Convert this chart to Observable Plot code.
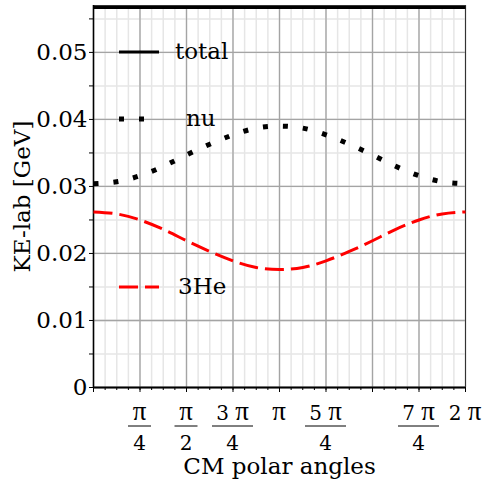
<!DOCTYPE html>
<html><head><meta charset="utf-8">
<script src="https://cdn.jsdelivr.net/npm/d3@7"></script>
<script src="https://cdn.jsdelivr.net/npm/@observablehq/plot@0.6"></script>
<style>body{margin:0;background:#fff} svg{display:block}</style>
</head><body><div id="chart"></div>
<script>
// sample angles in units of pi/8
const angleEighths = [0,1,2,3,4,5,6,7,8,9,10,11,12,13,14,15,16];
const nuKE    = [0.0304,0.0307,0.0316,0.0330,0.0347,0.0363,0.0377,0.0387,0.0390,0.0387,0.0377,0.0363,0.0347,0.0330,0.0316,0.0307,0.0304];
const he3KE   = [0.0262,0.0259,0.0250,0.0236,0.0219,0.0203,0.0189,0.0179,0.0176,0.0179,0.0189,0.0203,0.0219,0.0236,0.0250,0.0259,0.0262];
const totalKE = [0.0567,0.0567,0.0567,0.0567,0.0567,0.0567,0.0567,0.0567,0.0567,0.0567,0.0567,0.0567,0.0567,0.0567,0.0567,0.0567,0.0567];

// x ticks in units of pi/4 (major), pi/16 (minor)
const xMajorQuarters = [0,1,2,3,4,5,6,7,8];
const xMinorSixteenths = [0,1,2,3,4,5,6,7,8,9,10,11,12,13,14,15,16,17,18,19,20,21,22,23,24,25,26,27,28,29,30,31,32];
const xLabelQuarters = [1,2,3,4,5,7,8];
const xLabelCoef = ["","","3","","5","7","2"];   // numerator coefficient of π
const xLabelDen = ["4","2","4","","4","4",""];

const yMajor = [0,0.01,0.02,0.03,0.04,0.05];
const yMajorText = ["0","0.01","0.02","0.03","0.04","0.05"];
const yMinor = [0,0.005,0.01,0.015,0.02,0.025,0.03,0.035,0.04,0.045,0.05,0.055];

const seriesNames = ["total","nu","3He"];

const PI = Math.PI;
const rows = [];
angleEighths.forEach((k,i) => {
  rows.push({x: k*PI/8, y: totalKE[i], s: "total"});
  rows.push({x: k*PI/8, y: nuKE[i], s: "nu"});
  rows.push({x: k*PI/8, y: he3KE[i], s: "3He"});
});
const xLabels = xLabelQuarters.map((q,i) => ({v: q*PI/4, coef: xLabelCoef[i], den: xLabelDen[i]}));

const styles = {
  total: {stroke: "#000", strokeWidth: 3, dash: null},
  nu: {stroke: "#000", strokeWidth: 5, dash: "5,15"},
  "3He": {stroke: "#ff0000", strokeWidth: 3, dash: "19,7"}
};
const font = "DejaVu Serif";
const FS = 23;

const xTickLabels = (index, scales, values, dims) => {
  const g = d3.create("svg:g").attr("font-family", font).attr("fill", "#000");
  const bottom = dims.height - dims.marginBottom;
  xLabels.forEach(d => {
    const cx = scales.x(d.v);
    const t = g.append("text").attr("x", cx).attr("y", bottom + 33).attr("text-anchor", "middle");
    if (d.coef) { t.append("tspan").attr("font-size", 20).text(d.coef + " "); }
    t.append("tspan").attr("font-size", 27).attr("font-family", "Liberation Serif").text("π");
    if (d.den) {
      const w = d.coef ? 41 : 23;
      g.append("line").attr("x1", cx - w/2).attr("x2", cx + w/2)
        .attr("y1", bottom + 39).attr("y2", bottom + 39).attr("stroke", "#000").attr("stroke-width", 1);
      g.append("text").attr("x", cx).attr("y", bottom + 63).attr("text-anchor", "middle")
        .attr("font-size", 20).text(d.den);
    }
  });
  return g.node();
};

const legend = (index, scales, values, dims) => {
  const g = d3.create("svg:g");
  const left = dims.marginLeft, top = dims.marginTop;
  const rowDy = [47, 114, 282];
  const textDx = [82, 93, 85];
  seriesNames.forEach((s, i) => {
    const st = styles[s];
    const y = top + rowDy[i];
    const ln = g.append("line").attr("x1", left + 26).attr("x2", left + 66)
      .attr("y1", y).attr("y2", y).attr("stroke", st.stroke).attr("stroke-width", st.strokeWidth);
    if (st.dash) ln.attr("stroke-dasharray", st.dash);
    g.append("text").attr("x", left + textDx[i]).attr("y", y).attr("dy", "0.32em")
      .attr("text-anchor", "start")
      .attr("font-family", font).attr("font-size", FS).attr("fill", "#000").text(s);
  });
  return g.node();
};

const lineMarks = seriesNames.map(s => Plot.line(rows.filter(r => r.s === s), {
  x: "x", y: "y", stroke: styles[s].stroke, strokeWidth: styles[s].strokeWidth,
  strokeDasharray: styles[s].dash || undefined, strokeLinecap: "butt", curve: "natural"
}));

const chart = Plot.plot({
  width: 482, height: 484,
  marginLeft: 93, marginRight: 17, marginTop: 5, marginBottom: 97,
  style: {fontFamily: font, fontSize: FS + "px", background: "#fff"},
  x: {domain: [0, 2*PI]},
  y: {domain: [0, 0.057]},
  marks: [
    Plot.ruleX(xMinorSixteenths.map(k => k*PI/16), {stroke: "#e6e6e6", strokeWidth: 1.5}),
    Plot.ruleY(yMinor, {stroke: "#e6e6e6", strokeWidth: 1.5}),
    Plot.ruleX(xMajorQuarters.map(k => k*PI/4), {stroke: "#a4a4a4", strokeWidth: 1.3}),
    Plot.ruleY(yMajor, {stroke: "#a4a4a4", strokeWidth: 1.3}),
    Plot.frame({stroke: "#333", strokeWidth: 1}),
    Plot.ruleY([0], {stroke: "#000", strokeWidth: 2}),
    Plot.ruleX([0], {stroke: "#000", strokeWidth: 1.5}),
    ...lineMarks,
    Plot.axisY({ticks: yMinor, tickSize: 4, tickPadding: 2, label: null,
      tickFormat: d => { const i = yMajor.findIndex(v => Math.abs(v - d) < 1e-9); return i >= 0 ? yMajorText[i] : ""; },
      fontSize: FS}),
    Plot.axisX({ticks: xMinorSixteenths.map(k => k*PI/16), tickSize: 3, tickFormat: () => "", label: null}),
    Plot.axisX({ticks: xMajorQuarters.map(k => k*PI/4), tickSize: 5, tickFormat: () => "", label: null}),
    xTickLabels,
    legend,
    Plot.text(["CM polar angles"], {frameAnchor: "bottom", dy: 79, lineAnchor: "middle", fontSize: FS}),
    Plot.text(["KE-lab [GeV]"], {frameAnchor: "left", dx: -71, rotate: -90, textAnchor: "middle", lineAnchor: "middle", fontSize: FS})
  ]
});
document.getElementById("chart").appendChild(chart);
</script>
</body></html>
